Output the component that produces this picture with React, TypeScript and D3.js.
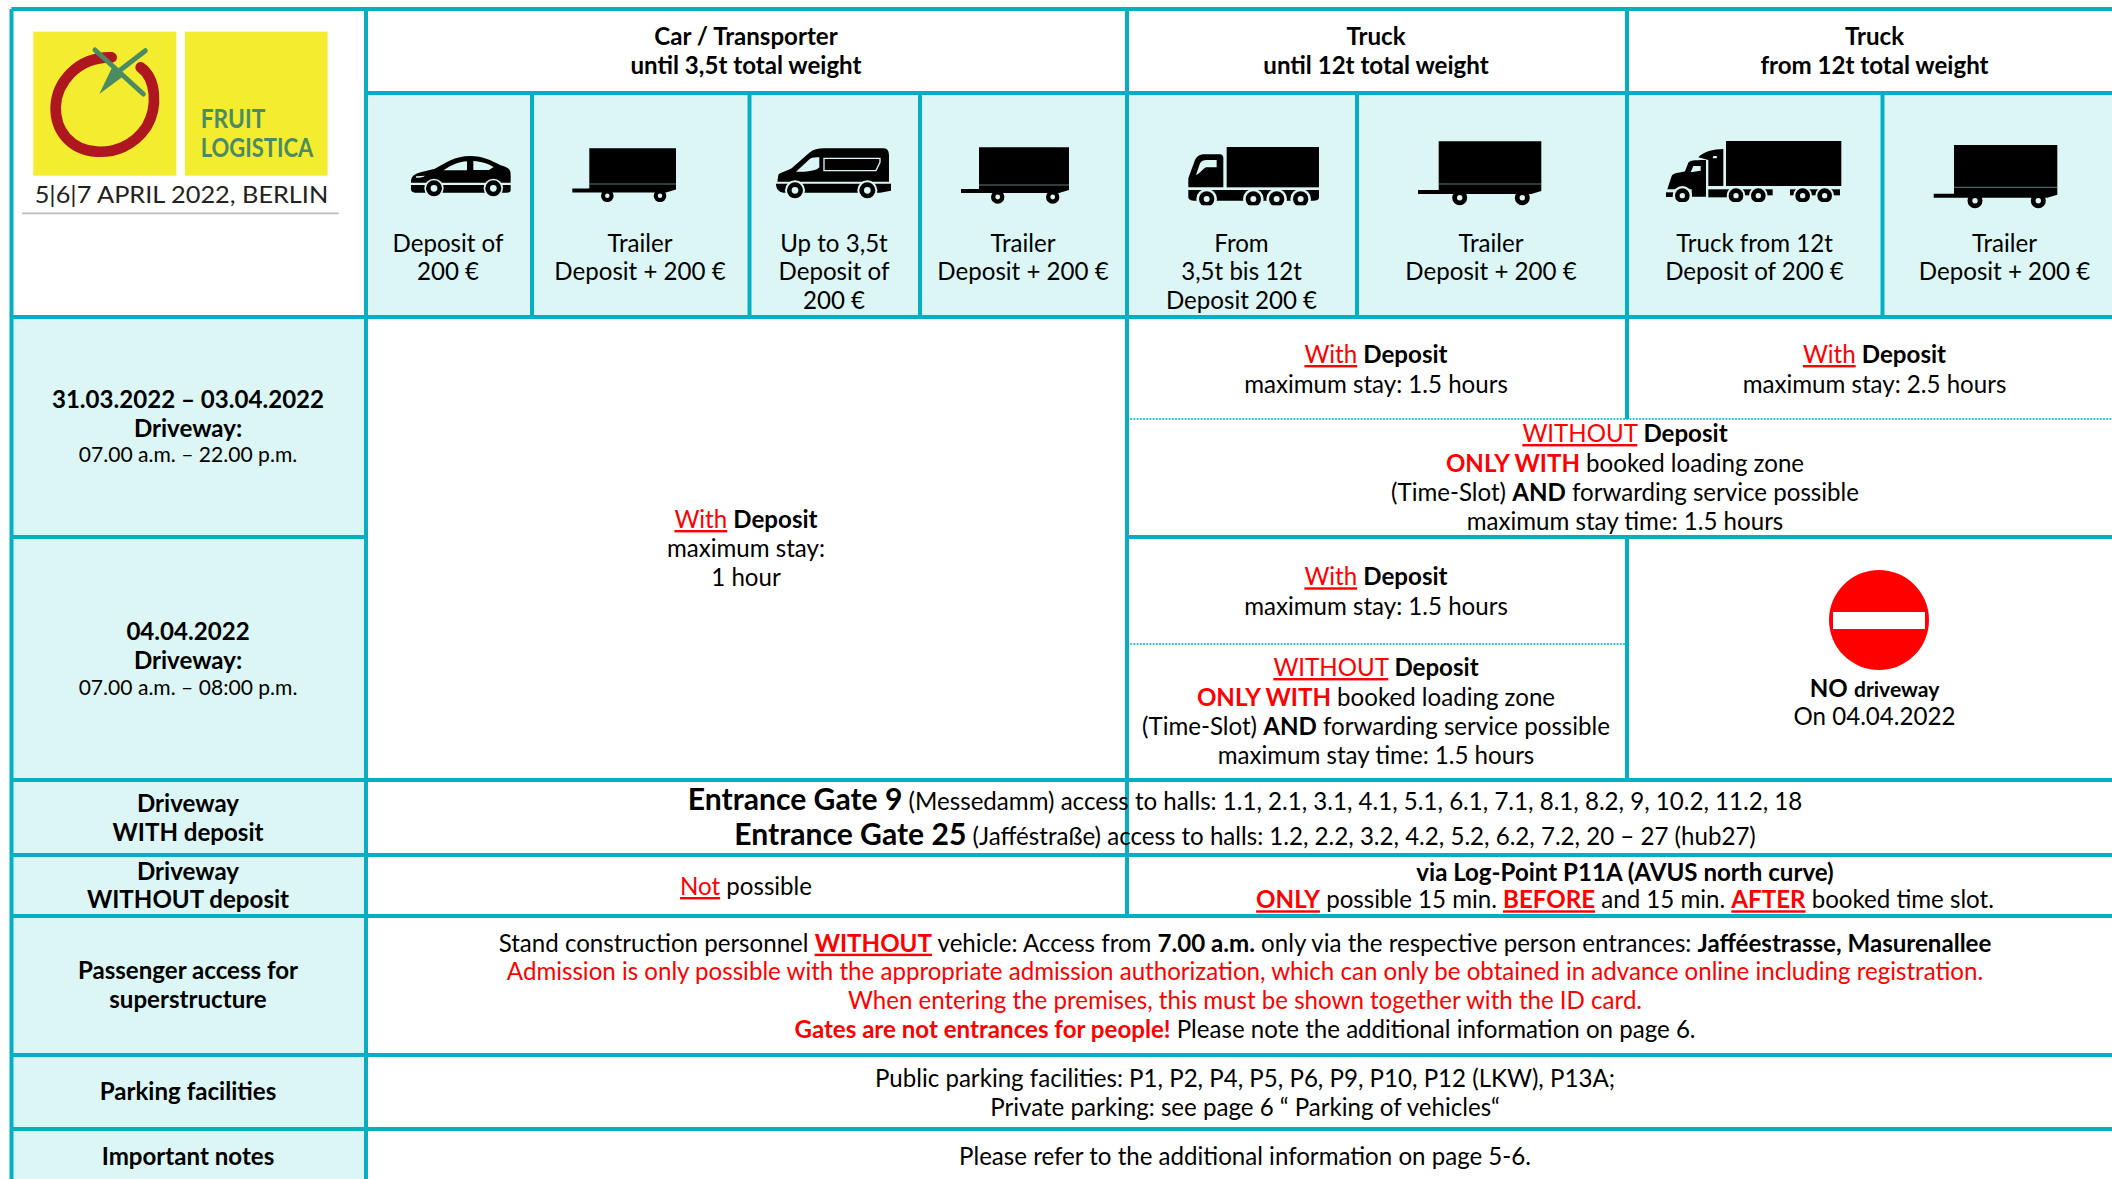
import React from "react";
import * as d3 from "d3";

// ---- table content ---- markup: {r|red} {b|bold} {u|red underlined} {R|red bold} {U|red bold underlined} {s|smaller} {B|bigger bold}
const columnHeads = ["Car / Transporter\nuntil 3,5t total weight", "Truck\nuntil 12t total weight", "Truck\nfrom 12t total weight"];
const vehicleLabels = ["Deposit of\n200 €", "Trailer\nDeposit + 200 €", "Up to 3,5t\nDeposit of\n200 €", "Trailer\nDeposit + 200 €", "From\n3,5t bis 12t\nDeposit 200 €", "Trailer\nDeposit + 200 €", "Truck from 12t\nDeposit of 200 €", "Trailer\nDeposit + 200 €"];
const rowLabels = ["Driveway\nWITH deposit", "Driveway\nWITHOUT deposit", "Passenger access for\nsuperstructure", "Parking facilities", "Important notes"];
const dateLabels = ["31.03.2022 – 03.04.2022\nDriveway:\n{s|07.00 a.m. – 22.00 p.m.}", "04.04.2022\nDriveway:\n{s|07.00 a.m. – 08:00 p.m.}"];
const withDeposit = "{u|With} {b|Deposit}";
const withoutLines = "{u|WITHOUT} {b|Deposit}\n{R|ONLY WITH} booked loading zone\n(Time-Slot) {b|AND} forwarding service possible\nmaximum stay time: 1.5 hours";
const carStay = `${withDeposit}\nmaximum stay:\n1 hour`;
const stay15 = `${withDeposit}\nmaximum stay: 1.5 hours`;
const stay25 = `${withDeposit}\nmaximum stay: 2.5 hours`;
const noDriveway = "{b|NO} {S|driveway}\nOn 04.04.2022";
const gates = "{B|Entrance Gate 9} (Messedamm) access to halls: 1.1, 2.1, 3.1, 4.1, 5.1, 6.1, 7.1, 8.1, 8.2, 9, 10.2, 11.2, 18\n{B|Entrance Gate 25} (Jafféstraße) access to halls: 1.2, 2.2, 3.2, 4.2, 5.2, 6.2, 7.2, 20 – 27 (hub27)";
const notPossible = "{u|Not} possible";
const logPoint = "{b|via Log-Point P11A (AVUS north curve)}\n{U|ONLY} possible 15 min. {U|BEFORE} and 15 min. {U|AFTER} booked time slot.";
const passenger = "Stand construction personnel {U|WITHOUT} vehicle: Access from {b|7.00 a.m.} only via the respective person entrances: {b|Jafféestrasse, Masurenallee}\n{r|Admission is only possible with the appropriate admission authorization, which can only be obtained in advance online including registration.}\n{r|When entering the premises, this must be shown together with the ID card.}\n{R|Gates are not entrances for people!} Please note the additional information on page 6.";
const parking = "Public parking facilities: P1, P2, P4, P5, P6, P9, P10, P12 (LKW), P13A;\nPrivate parking: see page 6 “ Parking of vehicles“";
const notes = "Please refer to the additional information on page 5-6.";

// ---- grid ----
const colKeys = ["left", "a", "b", "c", "d", "t1", "t2", "t3", "t4", "end"];
const colEdges = [11.5, 366, 532, 749.5, 920, 1127, 1357, 1627, 1882.5, 2122];
const rowKeys = ["top", "head", "vehicle", "d1", "d2", "gates", "log", "pass", "park", "note"];
const rowEdges = [9, 93, 317, 537, 780, 855, 916, 1055, 1129, 1190];
const X = d3.scaleOrdinal<string, number>().domain(colKeys).range(colEdges);
const Y = d3.scaleOrdinal<string, number>().domain(rowKeys).range(rowEdges);

const LINE = "#04AEC3";
const PALE = "#DBF6F4";
const RED = "#FF0000";
const FS = 24.1;
const LS = 0;

function runs(line: string) {
  const out: { t: string; k: string }[] = [];
  const re = /\{(\w)\|([^}]*)\}/g;
  let last = 0, m: RegExpExecArray | null;
  while ((m = re.exec(line))) {
    if (m.index > last) out.push({ t: line.slice(last, m.index), k: "" });
    out.push({ t: m[2], k: m[1] });
    last = m.index + m[0].length;
  }
  if (last < line.length) out.push({ t: line.slice(last), k: "" });
  return out;
}

function Rich({ text, x, ys, bold = false, size = FS }: { text: string; x: number; ys: number[]; bold?: boolean; size?: number }) {
  return (
    <>
      {text.split("\n").map((l, i) => (
        <text key={i} x={x} y={ys[i]} textAnchor="middle" fontSize={size} fontWeight={bold ? 700 : 400} fill="#000" letterSpacing={LS} style={{ whiteSpace: "pre" }}>
          {runs(l).map((r, j) => {
            const red = r.k !== "" && "ruRU".includes(r.k);
            const b = r.k !== "" && "bRUBS".includes(r.k);
            const u = r.k !== "" && "uU".includes(r.k);
            const fs = r.k === "s" ? size * 0.875 : r.k === "S" ? size * 0.875 : r.k === "B" ? size * 1.25 : undefined;
            return (
              <tspan key={j} fill={red ? RED : undefined} fontWeight={b ? 700 : r.k === "s" ? 400 : undefined} fontSize={fs} textDecoration={u ? "underline" : undefined}>
                {r.t}
              </tspan>
            );
          })}
        </text>
      ))}
    </>
  );
}

function Trailer({ box, top, seam, bottom, hitch, w1, w2, cy, r }: { box: [number, number]; top: number; seam: number; bottom: number; hitch: number; w1: number; w2: number; cy: number; r: number }) {
  const [a, b] = box;
  return (
    <g>
      <path d={`M${a},${top}H${b}V${bottom - 3}L${b - 10},${bottom}H${a}V${bottom}H${hitch}V${bottom - 4}H${a}Z`} fill="#000" />
      <line x1={a} x2={b} y1={seam} y2={seam} stroke="#7a9a9a" strokeWidth={0.8} />
      {[w1, w2].map((w, i) => (
        <g key={i}>
          <circle cx={w} cy={cy} r={r} fill="#000" />
          <circle cx={w} cy={cy} r={r * 0.36} fill={PALE} />
        </g>
      ))}
    </g>
  );
}

function Wheel({ x, y, r, inner, gap }: { x: number; y: number; r: number; inner: number; gap: number }) {
  return (
    <g>
      <circle cx={x} cy={y} r={gap} fill={PALE} />
      <circle cx={x} cy={y} r={r} fill="#000" />
      <circle cx={x} cy={y} r={inner} fill={PALE} />
    </g>
  );
}

function Car() {
  return (
    <g transform="translate(390,130) scale(0.3333)">
      <path d="M63,158C62,140 72,131 95,126L135,116C165,100 195,78 240,78C280,78 305,92 332,106C350,112 362,114 362,135V158Z" fill="#000" />
      <path d="M160,121H231V94C205,95 180,108 160,121ZM250,93V120H297L311,111C295,102 275,94 250,93Z" fill={PALE} />
      <path d="M78,139L105,137C100,142 85,144 78,143Z" fill={PALE} />
      <rect x={60} y={160} width={305} height={5} fill={PALE} />
      <path d="M63,165H362V180C362,186 358,188 350,188H75C68,188 63,184 63,178Z" fill="#000" />
      <Wheel x={132} y={175} r={24} inner={10} gap={29} />
      <Wheel x={310} y={175} r={24} inner={10} gap={29} />
    </g>
  );
}

function Van() {
  return (
    <g transform="translate(760,130) scale(0.3333)">
      <path d="M52,155L55,134C65,125 85,122 95,115L148,68C160,58 175,55 190,55H372C382,55 387,65 387,75V155Z" fill="#000" />
      <path d="M108,125L150,86C158,82 170,82 178,82V112C170,122 140,127 108,125Z" fill={PALE} />
      <path d="M192,85H360V97L348,122H192Z" fill="none" stroke={PALE} strokeWidth={4} />
      <path d="M48,161H393V182L360,188H70C55,186 48,175 48,161Z" fill="#000" />
      <Wheel x={105} y={181} r={24} inner={10} gap={30} />
      <Wheel x={322} y={181} r={24} inner={10} gap={30} />
    </g>
  );
}

function Truck() {
  return (
    <g transform="translate(1170,130) scale(0.3333)">
      <rect x={170} y={51} width={277} height={121} fill="#000" />
      <path d="M55,172V145L75,90C82,78 90,73 105,73H150C157,73 160,78 160,85V172Z" fill="#000" />
      <path d="M78,135L90,100C95,92 100,90 110,90H140V112H110C100,113 95,128 78,135Z" fill={PALE} />
      <path d="M55,180H447V203C447,208 440,212 430,212H75C62,212 55,208 55,200Z" fill="#000" />
      <Wheel x={110} y={207} r={23} inner={9} gap={31} />
      <Wheel x={250} y={207} r={23} inner={9} gap={31} />
      <Wheel x={320} y={207} r={23} inner={9} gap={31} />
      <Wheel x={392} y={207} r={23} inner={9} gap={31} />
      <rect x={50} y={226} width={400} height={14} fill={PALE} />
    </g>
  );
}

function BigTruck() {
  const wheels = [258, 325, 458, 524];
  return (
    <g transform="translate(1650,130) scale(0.3333)">
      <rect x={228} y={33} width={346} height={135} fill="#000" />
      <path d="M145,82C160,65 190,57 220,57V168H175V90Z" fill="#000" />
      <path d="M190,78H200L201,85H188Z" fill={PALE} />
      <path d="M52,178L65,138C70,128 95,128 105,124L115,98C118,92 130,90 168,90V200H125V178Z" fill="#000" />
      <path d="M122,127L130,108H152V122Z" fill={PALE} />
      <rect x={48} y={187} width={30} height={14} fill="#000" />
      <rect x={175} y={178} width={70} height={24} fill="#000" />
      <rect x={240} y={178} width={128} height={18} fill="#000" />
      <rect x={420} y={178} width={150} height={18} fill="#000" />
      <Wheel x={97} y={197} r={22} inner={8} gap={29} />
      {wheels.map((w) => <Wheel key={w} x={w} y={197} r={22} inner={8} gap={28} />)}
      <rect x={40} y={216} width={540} height={12} fill={PALE} />
    </g>
  );
}

function Logo() {
  return (
    <g transform="scale(0.3333)">
      <rect x={100} y={95} width={429} height={432} fill="#F4EC2F" />
      <rect x={555} y={95} width={428} height={432} fill="#F4EC2F" />
      <path d="M422,202C468,235 475,320 440,380C400,440 340,458 290,455C210,450 165,390 167,320C170,250 230,170 335,172" fill="none" stroke="#AE1620" strokeWidth={32} strokeLinecap="round" />
      <path d="M285,150L430,282" stroke="#4A8B62" strokeWidth={15} strokeLinecap="round" />
      <path d="M436,152L358,212" stroke="#4A8B62" strokeWidth={15} strokeLinecap="round" />
      <path d="M335,205L375,225L298,282Z" fill="#4A8B62" />
      <text x={602} y={385} fontFamily="Lato" fontWeight={700} fontSize={78} fill="#4A8B62" textLength={194} lengthAdjust="spacingAndGlyphs">FRUIT</text>
      <text x={602} y={471} fontFamily="Lato" fontWeight={700} fontSize={78} fill="#4A8B62" textLength={338} lengthAdjust="spacingAndGlyphs">LOGISTICA</text>
      <text x={104} y={610} fontFamily="Lato" fontSize={72} fill="#222" textLength={881} lengthAdjust="spacingAndGlyphs">5|6|7 APRIL 2022, BERLIN</text>
      <line x1={66} x2={1016} y1={640} y2={640} stroke="#BDBDBD" strokeWidth={5} />
    </g>
  );
}

export default function App() {
  const vx = (k: string) => X(k);
  const hy = (k: string) => Y(k);
  const vLines: [string, string, string][] = [
    ["left", "top", "note"], ["a", "top", "note"], ["b", "head", "vehicle"], ["c", "head", "vehicle"], ["d", "head", "vehicle"],
    ["t1", "top", "log"], ["t2", "head", "vehicle"], ["t4", "head", "vehicle"],
  ];
  const hLines: [string, string, string][] = [
    ["top", "left", "end"], ["head", "a", "end"], ["vehicle", "left", "end"], ["d1", "left", "a"], ["d1", "t1", "end"],
    ["d2", "left", "end"], ["gates", "left", "end"], ["log", "left", "end"], ["pass", "left", "end"], ["park", "left", "end"],
  ];
  const pale: [string, string, string, string][] = [
    ["a", "end", "head", "vehicle"], ["left", "a", "vehicle", "note"],
  ];
  const labelX = [448, 640, 834, 1023, 1241.5, 1491, 1754.5, 2004.5];
  const cLeft = 188, cCar = 746, cTruck = 1376, cBig = 1874.5, cWide = 1625, cAll = 1245;
  return (
    <svg width={2112} height={1179} viewBox="0 0 2112 1179" style={{ position: "fixed", left: 0, top: 0, background: "#fff" }} fontFamily="Lato, sans-serif">
      {pale.map(([a, b, c, d], i) => (
        <rect key={i} x={vx(a)} y={hy(c)} width={vx(b) - vx(a)} height={hy(d) - hy(c)} fill={PALE} />
      ))}
      <Logo />
      <Car />
      <Trailer box={[589.3, 676]} top={148.3} seam={184} bottom={192.5} hitch={572.3} w1={607.3} w2={660} cy={195.7} r={6.3} />
      <Van />
      <Trailer box={[979, 1069]} top={147.3} seam={185} bottom={193} hitch={961} w1={997.7} w2={1052.7} cy={197} r={6.7} />
      <Truck />
      <Trailer box={[1438.7, 1541.3]} top={141.3} seam={184} bottom={194} hitch={1418} w1={1459.7} w2={1522.3} cy={197.7} r={7.5} />
      <BigTruck />
      <Trailer box={[1954, 2057.3]} top={145} seam={187.3} bottom={197.7} hitch={1933.7} w1={1975} w2={2038.3} cy={200.7} r={7.5} />

      {vLines.map(([c, a, b], i) => (
        <line key={i} x1={vx(c)} x2={vx(c)} y1={hy(a)} y2={hy(b)} stroke={LINE} strokeWidth={4} />
      ))}
      <line x1={X("t3")} x2={X("t3")} y1={Y("top")} y2={419} stroke={LINE} strokeWidth={4} />
      <line x1={X("t3")} x2={X("t3")} y1={Y("d1")} y2={Y("d2")} stroke={LINE} strokeWidth={4} />
      {hLines.map(([r, a, b], i) => (
        <line key={i} x1={vx(a)} x2={vx(b)} y1={hy(r)} y2={hy(r)} stroke={LINE} strokeWidth={4} />
      ))}
      <line x1={X("t1")} x2={X("end")} y1={419} y2={419} stroke={LINE} strokeWidth={1.5} strokeDasharray="2 1.2" />
      <line x1={X("t1")} x2={X("t3") - 2} y1={644} y2={644} stroke={LINE} strokeWidth={1.5} strokeDasharray="2 1.2" />

      <Rich text={columnHeads[0]} x={cCar} ys={[45, 74]} bold />
      <Rich text={columnHeads[1]} x={cTruck} ys={[45, 74]} bold />
      <Rich text={columnHeads[2]} x={cBig} ys={[45, 74]} bold />
      {vehicleLabels.map((t, i) => <Rich key={i} text={t} x={labelX[i]} ys={[251.5, 280, 308.5]} />)}

      <Rich text={dateLabels[0]} x={cLeft} ys={[408, 437, 462]} bold />
      <Rich text={dateLabels[1]} x={cLeft} ys={[640, 669, 695]} bold />
      <Rich text={carStay} x={cCar} ys={[528, 557, 586]} />
      <Rich text={stay15} x={cTruck} ys={[363, 392.7]} />
      <Rich text={stay25} x={cBig} ys={[363, 392.7]} />
      <Rich text={withoutLines} x={cWide} ys={[442, 471.5, 500.5, 530]} />
      <Rich text={stay15} x={cTruck} ys={[585.3, 615]} />
      <Rich text={withoutLines} x={cTruck} ys={[676, 705.5, 735, 764]} />
      <circle cx={1879} cy={620} r={50} fill={RED} />
      <rect x={1833} y={612} width={92} height={17} fill="#fff" />
      <Rich text={noDriveway} x={cBig} ys={[696.7, 725.3]} />

      {rowLabels.map((t, i) => (
        <Rich key={i} text={t} x={cLeft} ys={[[811.7, 840.7], [880, 908.3], [979.3, 1008.3], [1100], [1165]][i]} bold />
      ))}
      <Rich text={gates} x={cAll} ys={[810, 845]} />
      <Rich text={notPossible} x={cCar} ys={[895]} />
      <Rich text={logPoint} x={cWide} ys={[880.7, 908.3]} />
      <Rich text={passenger} x={cAll} ys={[951.7, 980, 1009, 1037.7]} />
      <Rich text={parking} x={cAll} ys={[1086.7, 1116]} />
      <Rich text={notes} x={cAll} ys={[1165]} />
    </svg>
  );
}
